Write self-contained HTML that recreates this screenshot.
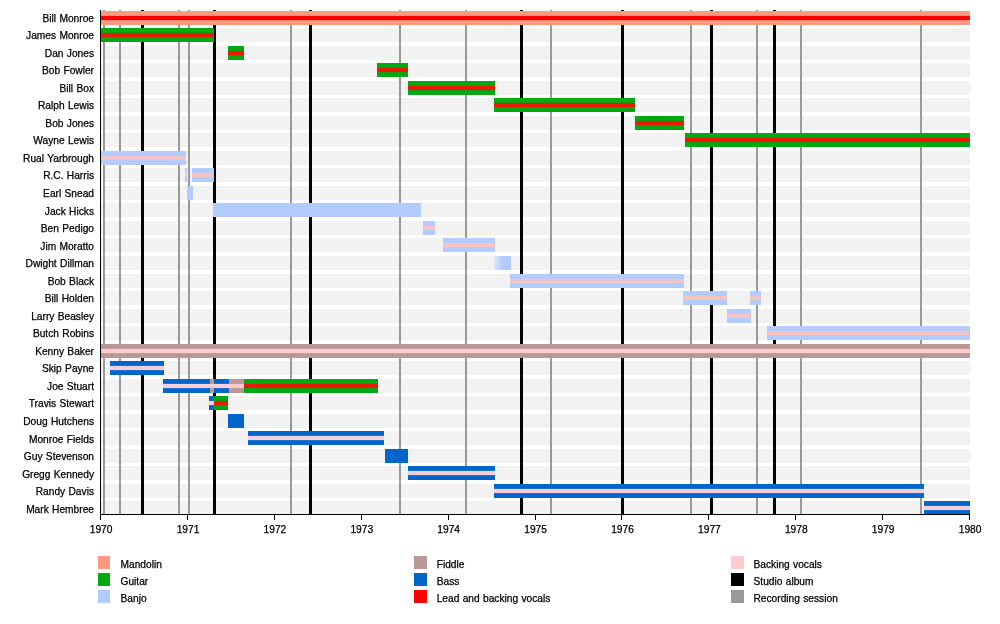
<!DOCTYPE html>
<html><head><meta charset="utf-8"><title>Timeline</title>
<style>
html,body{margin:0;padding:0;background:#fff;}
#c{filter:blur(0.35px);position:relative;width:1000px;height:624px;overflow:hidden;background:#fff;font-family:"Liberation Sans",Arial,Helvetica,sans-serif;font-size:10.2px;color:#000;-webkit-text-stroke:0.25px #000;word-spacing:0.5px;}
#c div{position:absolute;}
.s{left:100px;width:870px;height:14px;background:#F2F2F2;}
.g{top:10px;height:505px;width:2px;background:#999999;}
.k{top:10px;height:505px;width:3px;background:#000;}
.n{left:0;width:94px;text-align:right;height:14px;line-height:14px;white-space:nowrap;}
.t{top:514px;width:1px;height:6px;background:#000;}
.y{top:523.1px;width:40px;text-align:center;height:14px;line-height:14px;}
.q{width:12px;height:12px;}
.l{height:14px;line-height:14px;white-space:nowrap;}
</style></head><body><div id="c">

<div class="s" style="top:11.0px"></div>
<div class="s" style="top:28.0px"></div>
<div class="s" style="top:46.0px"></div>
<div class="s" style="top:63.0px"></div>
<div class="s" style="top:81.0px"></div>
<div class="s" style="top:98.0px"></div>
<div class="s" style="top:116.0px"></div>
<div class="s" style="top:133.0px"></div>
<div class="s" style="top:151.0px"></div>
<div class="s" style="top:168.0px"></div>
<div class="s" style="top:186.0px"></div>
<div class="s" style="top:203.0px"></div>
<div class="s" style="top:221.0px"></div>
<div class="s" style="top:238.0px"></div>
<div class="s" style="top:256.0px"></div>
<div class="s" style="top:274.0px"></div>
<div class="s" style="top:291.0px"></div>
<div class="s" style="top:309.0px"></div>
<div class="s" style="top:326.0px"></div>
<div class="s" style="top:344.0px"></div>
<div class="s" style="top:361.0px"></div>
<div class="s" style="top:379.0px"></div>
<div class="s" style="top:396.0px"></div>
<div class="s" style="top:414.0px"></div>
<div class="s" style="top:431.0px"></div>
<div class="s" style="top:449.0px"></div>
<div class="s" style="top:466.0px"></div>
<div class="s" style="top:484.0px"></div>
<div class="s" style="top:501.0px"></div>


<div class="g" style="left:103.0px"></div>
<div class="g" style="left:119.0px"></div>
<div class="g" style="left:178.0px"></div>
<div class="g" style="left:188.0px"></div>
<div class="g" style="left:290.0px"></div>
<div class="g" style="left:398.7px"></div>
<div class="g" style="left:465.0px"></div>
<div class="g" style="left:550.0px"></div>
<div class="g" style="left:689.8px"></div>
<div class="g" style="left:756.0px"></div>
<div class="g" style="left:800.0px"></div>
<div class="g" style="left:920.0px"></div>
<div class="k" style="left:140.9px"></div>
<div class="k" style="left:213.1px"></div>
<div class="k" style="left:308.9px"></div>
<div class="k" style="left:519.9px"></div>
<div class="k" style="left:620.7px"></div>
<div class="k" style="left:710.0px"></div>
<div class="k" style="left:773.0px"></div>


<div style="left:100.0px;top:11.0px;width:870.0px;height:14px;background:linear-gradient(#FF9980 4.4px,#FF0000 5.4px,#FF0000 8.6px,#FF9980 9.6px)"></div>
<div style="left:100.0px;top:28.0px;width:114.0px;height:14px;background:linear-gradient(#00A814 4.4px,#EE1806 5.4px,#EE1806 8.6px,#00A814 9.6px)"></div>
<div style="left:227.7px;top:46.0px;width:16.0px;height:14px;background:linear-gradient(#00A814 4.4px,#EE1806 5.4px,#EE1806 8.6px,#00A814 9.6px)"></div>
<div style="left:376.6px;top:63.0px;width:31.2px;height:14px;background:linear-gradient(#00A814 4.4px,#EE1806 5.4px,#EE1806 8.6px,#00A814 9.6px)"></div>
<div style="left:408.0px;top:81.0px;width:87.0px;height:14px;background:linear-gradient(#00A814 4.4px,#EE1806 5.4px,#EE1806 8.6px,#00A814 9.6px)"></div>
<div style="left:494.3px;top:98.0px;width:140.3px;height:14px;background:linear-gradient(#00A814 4.4px,#EE1806 5.4px,#EE1806 8.6px,#00A814 9.6px)"></div>
<div style="left:635.0px;top:116.0px;width:48.8px;height:14px;background:linear-gradient(#00A814 4.4px,#EE1806 5.4px,#EE1806 8.6px,#00A814 9.6px)"></div>
<div style="left:685.0px;top:133.0px;width:285.0px;height:14px;background:linear-gradient(#00A814 4.4px,#EE1806 5.4px,#EE1806 8.6px,#00A814 9.6px)"></div>
<div style="left:100.0px;top:151.0px;width:86.0px;height:14px;background:linear-gradient(#B2CCFF 4.4px,#F3C4C4 5.4px,#F3C4C4 8.6px,#B2CCFF 9.6px)"></div>
<div style="left:185.2px;top:168.0px;width:2.0px;height:14px;background:linear-gradient(#B2CCFF 4.4px,#F3C4C4 5.4px,#F3C4C4 8.6px,#B2CCFF 9.6px)"></div>
<div style="left:192.3px;top:168.0px;width:21.7px;height:14px;background:linear-gradient(#B2CCFF 4.4px,#F3C4C4 5.4px,#F3C4C4 8.6px,#B2CCFF 9.6px)"></div>
<div style="left:187.0px;top:186.0px;width:6.0px;height:14px;background:#B2CCFF"></div>
<div style="left:212.6px;top:203.0px;width:208.1px;height:14px;background:#B2CCFF"></div>
<div style="left:422.5px;top:221.0px;width:12.5px;height:14px;background:linear-gradient(#B2CCFF 4.4px,#F3C4C4 5.4px,#F3C4C4 8.6px,#B2CCFF 9.6px)"></div>
<div style="left:443.0px;top:238.0px;width:52.0px;height:14px;background:linear-gradient(#B2CCFF 4.4px,#F3C4C4 5.4px,#F3C4C4 8.6px,#B2CCFF 9.6px)"></div>
<div style="left:493.6px;top:256.0px;width:17.4px;height:14px;background:linear-gradient(to right,#E2E9F8,#B2CCFF 8px)"></div>
<div style="left:510.0px;top:274.0px;width:174.0px;height:14px;background:linear-gradient(#B2CCFF 4.4px,#F3C4C4 5.4px,#F3C4C4 8.6px,#B2CCFF 9.6px)"></div>
<div style="left:683.0px;top:291.0px;width:44.0px;height:14px;background:linear-gradient(#B2CCFF 4.4px,#F3C4C4 5.4px,#F3C4C4 8.6px,#B2CCFF 9.6px)"></div>
<div style="left:750.2px;top:291.0px;width:10.8px;height:14px;background:linear-gradient(#B2CCFF 4.4px,#F3C4C4 5.4px,#F3C4C4 8.6px,#B2CCFF 9.6px)"></div>
<div style="left:727.3px;top:309.0px;width:23.7px;height:14px;background:linear-gradient(#B2CCFF 4.4px,#F3C4C4 5.4px,#F3C4C4 8.6px,#B2CCFF 9.6px)"></div>
<div style="left:767.0px;top:326.0px;width:203.0px;height:14px;background:linear-gradient(#B2CCFF 4.4px,#F3C4C4 5.4px,#F3C4C4 8.6px,#B2CCFF 9.6px)"></div>
<div style="left:100.0px;top:344.0px;width:870.0px;height:14px;background:linear-gradient(#BA9898 4.4px,#FFCCCC 5.4px,#FFCCCC 8.6px,#BA9898 9.6px)"></div>
<div style="left:110.0px;top:361.0px;width:54.0px;height:14px;background:linear-gradient(#0066CC 4.4px,#F6CEDA 5.4px,#F6CEDA 8.6px,#0066CC 9.6px)"></div>
<div style="left:163.0px;top:379.0px;width:47.0px;height:14px;background:linear-gradient(#0066CC 4.4px,#F6CEDA 5.4px,#F6CEDA 8.6px,#0066CC 9.6px)"></div>
<div style="left:210.0px;top:379.0px;width:4.0px;height:14px;background:linear-gradient(#BA9898 4.4px,#FFCCCC 5.4px,#FFCCCC 8.6px,#BA9898 9.6px)"></div>
<div style="left:214.0px;top:379.0px;width:15.2px;height:14px;background:linear-gradient(#0066CC 4.4px,#F6CEDA 5.4px,#F6CEDA 8.6px,#0066CC 9.6px)"></div>
<div style="left:229.2px;top:379.0px;width:14.6px;height:14px;background:linear-gradient(#BA9898 4.4px,#FFCCCC 5.4px,#FFCCCC 8.6px,#BA9898 9.6px)"></div>
<div style="left:243.8px;top:379.0px;width:133.9px;height:14px;background:linear-gradient(#00A814 4.4px,#EE1806 5.4px,#EE1806 8.6px,#00A814 9.6px)"></div>
<div style="left:209.2px;top:396.0px;width:4.6px;height:14px;background:linear-gradient(#0066CC 4.4px,#F6CEDA 5.4px,#F6CEDA 8.6px,#0066CC 9.6px)"></div>
<div style="left:213.8px;top:396.0px;width:14.0px;height:14px;background:linear-gradient(#00A814 4.4px,#EE1806 5.4px,#EE1806 8.6px,#00A814 9.6px)"></div>
<div style="left:228.0px;top:414.0px;width:16.0px;height:14px;background:#0066CC"></div>
<div style="left:247.6px;top:431.0px;width:136.1px;height:14px;background:linear-gradient(#0066CC 4.4px,#F6CEDA 5.4px,#F6CEDA 8.6px,#0066CC 9.6px)"></div>
<div style="left:385.0px;top:449.0px;width:22.8px;height:14px;background:#0066CC"></div>
<div style="left:408.0px;top:466.0px;width:86.7px;height:14px;background:linear-gradient(#0066CC 4.4px,#F6CEDA 5.4px,#F6CEDA 8.6px,#0066CC 9.6px)"></div>
<div style="left:493.8px;top:484.0px;width:430.0px;height:14px;background:linear-gradient(#0066CC 4.4px,#F6CEDA 5.4px,#F6CEDA 8.6px,#0066CC 9.6px)"></div>
<div style="left:923.8px;top:501.0px;width:46.2px;height:14px;background:linear-gradient(#0066CC 4.4px,#F6CEDA 5.4px,#F6CEDA 8.6px,#0066CC 9.6px)"></div>


<div style="left:100px;top:10px;width:1px;height:505px;background:#000"></div>
<div style="left:100px;top:514px;width:870px;height:1px;background:#000"></div>
<div class="t" style="left:100.0px"></div>
<div class="y" style="left:81.1px">1970</div>
<div class="t" style="left:186.9px"></div>
<div class="y" style="left:168.0px">1971</div>
<div class="t" style="left:273.8px"></div>
<div class="y" style="left:254.9px">1972</div>
<div class="t" style="left:360.7px"></div>
<div class="y" style="left:341.8px">1973</div>
<div class="t" style="left:447.6px"></div>
<div class="y" style="left:428.7px">1974</div>
<div class="t" style="left:534.5px"></div>
<div class="y" style="left:515.6px">1975</div>
<div class="t" style="left:621.4px"></div>
<div class="y" style="left:602.5px">1976</div>
<div class="t" style="left:708.3px"></div>
<div class="y" style="left:689.4px">1977</div>
<div class="t" style="left:795.2px"></div>
<div class="y" style="left:776.3px">1978</div>
<div class="t" style="left:882.1px"></div>
<div class="y" style="left:863.2px">1979</div>
<div class="t" style="left:969.0px"></div>
<div class="y" style="left:950.1px">1980</div>


<div class="n" style="top:11.60px">Bill Monroe</div>
<div class="n" style="top:29.14px">James Monroe</div>
<div class="n" style="top:46.68px">Dan Jones</div>
<div class="n" style="top:64.22px">Bob Fowler</div>
<div class="n" style="top:81.76px">Bill Box</div>
<div class="n" style="top:99.30px">Ralph Lewis</div>
<div class="n" style="top:116.84px">Bob Jones</div>
<div class="n" style="top:134.38px">Wayne Lewis</div>
<div class="n" style="top:151.92px">Rual Yarbrough</div>
<div class="n" style="top:169.46px">R.C. Harris</div>
<div class="n" style="top:187.00px">Earl Snead</div>
<div class="n" style="top:204.54px">Jack Hicks</div>
<div class="n" style="top:222.08px">Ben Pedigo</div>
<div class="n" style="top:239.62px">Jim Moratto</div>
<div class="n" style="top:257.16px">Dwight Dillman</div>
<div class="n" style="top:274.70px">Bob Black</div>
<div class="n" style="top:292.24px">Bill Holden</div>
<div class="n" style="top:309.78px">Larry Beasley</div>
<div class="n" style="top:327.32px">Butch Robins</div>
<div class="n" style="top:344.86px">Kenny Baker</div>
<div class="n" style="top:362.40px">Skip Payne</div>
<div class="n" style="top:379.94px">Joe Stuart</div>
<div class="n" style="top:397.48px">Travis Stewart</div>
<div class="n" style="top:415.02px">Doug Hutchens</div>
<div class="n" style="top:432.56px">Monroe Fields</div>
<div class="n" style="top:450.10px">Guy Stevenson</div>
<div class="n" style="top:467.64px">Gregg Kennedy</div>
<div class="n" style="top:485.18px">Randy Davis</div>
<div class="n" style="top:502.72px">Mark Hembree</div>


<div class="q" style="left:97.9px;top:556.2px;width:12.1px;height:12.5px;background:#FF9980"></div>
<div class="l" style="left:120.5px;top:558.1px">Mandolin</div>
<div class="q" style="left:97.9px;top:573.2px;width:12.1px;height:12.5px;background:#00A814"></div>
<div class="l" style="left:120.5px;top:575.1px">Guitar</div>
<div class="q" style="left:97.9px;top:590.3px;width:12.1px;height:12.5px;background:#B2CCFF"></div>
<div class="l" style="left:120.5px;top:592.2px">Banjo</div>
<div class="q" style="left:414.1px;top:556.2px;width:12.8px;height:12.5px;background:#BA9898"></div>
<div class="l" style="left:436.7px;top:558.1px">Fiddle</div>
<div class="q" style="left:414.1px;top:573.2px;width:12.8px;height:12.5px;background:#0066CC"></div>
<div class="l" style="left:436.7px;top:575.1px">Bass</div>
<div class="q" style="left:414.1px;top:590.3px;width:12.8px;height:12.5px;background:#FF0000"></div>
<div class="l" style="left:436.7px;top:592.2px">Lead and backing vocals</div>
<div class="q" style="left:731.0px;top:556.2px;width:13.0px;height:12.5px;background:#FFCCCC"></div>
<div class="l" style="left:753.5px;top:558.1px">Backing vocals</div>
<div class="q" style="left:731.0px;top:573.2px;width:13.0px;height:12.5px;background:#000000"></div>
<div class="l" style="left:753.5px;top:575.1px">Studio album</div>
<div class="q" style="left:731.0px;top:590.3px;width:13.0px;height:12.5px;background:#999999"></div>
<div class="l" style="left:753.5px;top:592.2px">Recording session</div>

</div></body></html>
